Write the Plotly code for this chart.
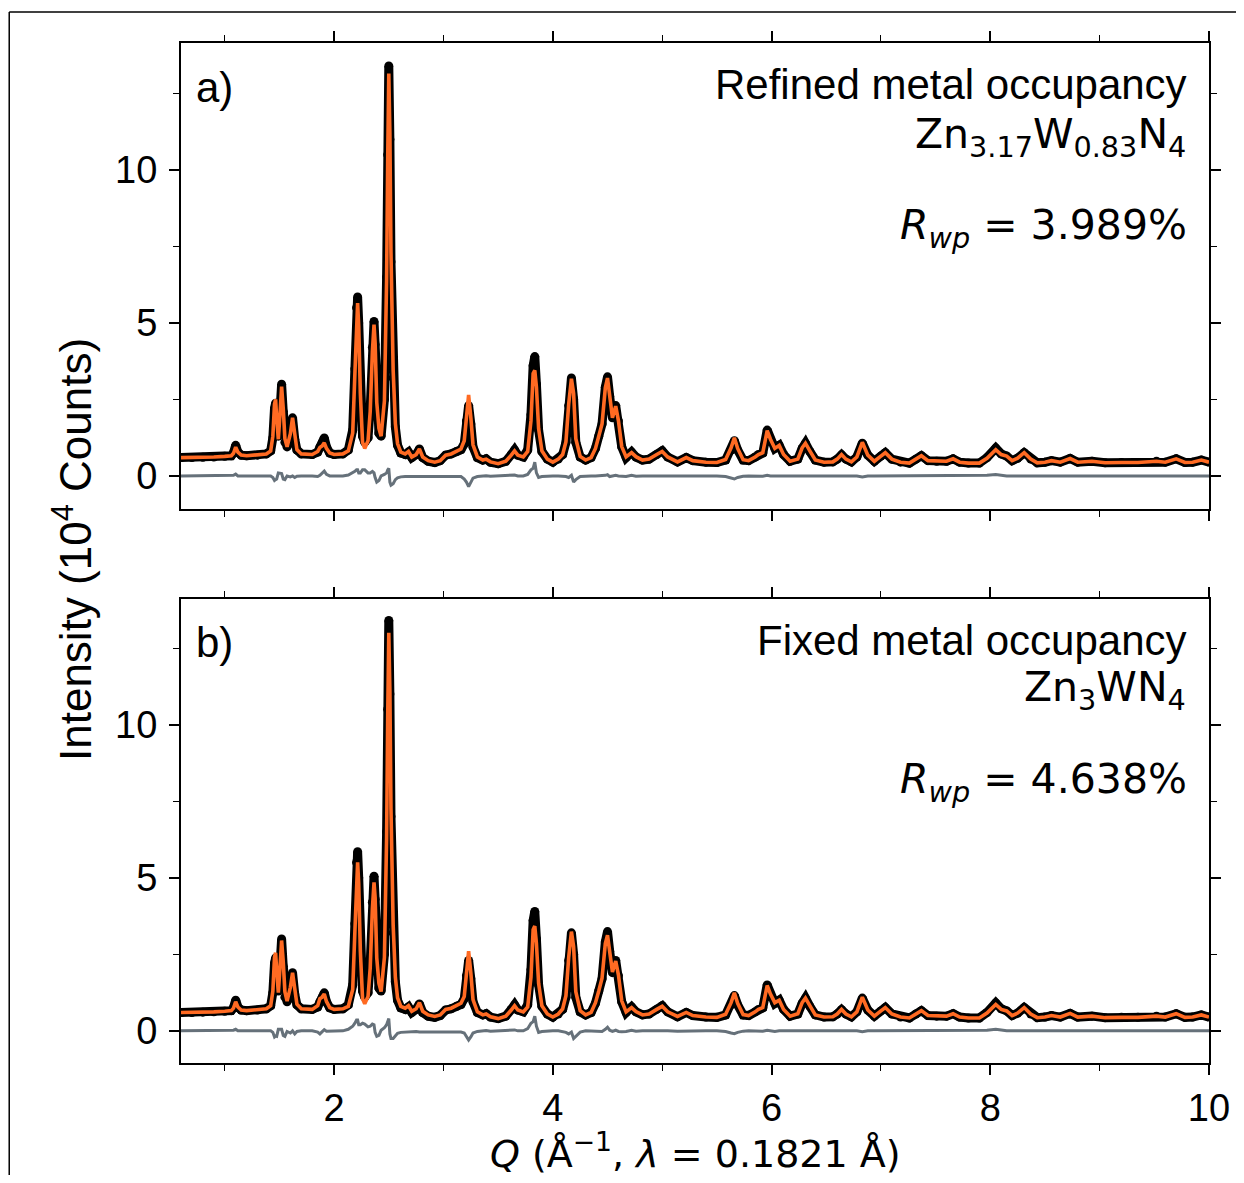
import plotly.graph_objects as go

# ---------------- data ----------------
q = [0.60, 0.70, 0.80, 0.90, 1.00, 1.06, 1.08, 1.10, 1.12, 1.15, 1.20, 1.30, 1.38, 1.42, 1.44,
     1.455, 1.465, 1.475, 1.49, 1.505, 1.52, 1.535, 1.55, 1.57, 1.60, 1.62, 1.64, 1.66, 1.70, 1.80,
     1.85, 1.87, 1.89, 1.91, 1.93, 1.96, 2.00, 2.08, 2.13, 2.17, 2.19, 2.205, 2.215, 2.225, 2.24,
     2.26, 2.28, 2.31, 2.33, 2.35, 2.365, 2.375, 2.39, 2.41, 2.43, 2.46, 2.48, 2.49, 2.50, 2.51,
     2.52, 2.54, 2.56, 2.58, 2.61, 2.65, 2.68, 2.71, 2.75, 2.78, 2.81, 2.86, 2.92, 2.97, 3.02,
     3.07, 3.12, 3.16, 3.19, 3.21, 3.23, 3.25, 3.27, 3.31, 3.36, 3.39, 3.43, 3.50, 3.57, 3.62,
     3.65, 3.68, 3.73, 3.77, 3.80, 3.82, 3.835, 3.85, 3.87, 3.90, 3.95, 4.00, 4.05, 4.09, 4.12,
     4.145, 4.17, 4.19, 4.21, 4.25, 4.30, 4.35, 4.39, 4.42, 4.45, 4.48, 4.50, 4.52, 4.545, 4.575,
     4.60, 4.63, 4.67, 4.72, 4.76, 4.82, 4.88, 4.95, 5.00, 5.05, 5.14, 5.22, 5.28, 5.40, 5.50,
     5.58, 5.63, 5.66, 5.69, 5.74, 5.79, 5.85, 5.88, 5.92, 5.96, 5.99, 6.03, 6.07, 6.11, 6.17,
     6.24, 6.28, 6.31, 6.35, 6.40, 6.48, 6.56, 6.60, 6.64, 6.68, 6.73, 6.78, 6.83, 6.88, 6.94,
     7.00, 7.04, 7.10, 7.18, 7.26, 7.32, 7.37, 7.43, 7.51, 7.60, 7.66, 7.72, 7.80, 7.90, 7.97,
     8.05, 8.10, 8.15, 8.20, 8.25, 8.31, 8.37, 8.43, 8.50, 8.56, 8.64, 8.73, 8.80, 8.93, 9.05,
     9.20, 9.35, 9.52, 9.60, 9.70, 9.78, 9.85, 9.93, 10.00]

i_obs = [0.60, 0.60, 0.61, 0.62, 0.64, 0.66, 0.76, 1.00, 0.78, 0.68, 0.66, 0.68, 0.72, 0.82, 1.25,
         2.20, 2.38, 1.80, 1.30, 2.10, 3.00, 2.10, 1.10, 0.95, 1.35, 1.90, 1.20, 0.85, 0.72, 0.70,
         0.78, 0.95, 1.08, 1.24, 0.95, 0.75, 0.70, 0.72, 0.85, 1.50, 3.50, 5.50, 5.85, 5.00, 2.80,
         1.30, 1.10, 1.25, 2.20, 4.20, 5.05, 4.30, 2.20, 1.40, 1.30, 2.50, 6.50, 10.50, 13.40, 11.00,
         7.00, 3.20, 1.60, 1.00, 0.75, 0.70, 0.78, 0.60, 0.70, 0.88, 0.60, 0.48, 0.44, 0.50, 0.68,
         0.72, 0.80, 0.86, 1.05, 1.80, 2.30, 1.70, 0.95, 0.60, 0.52, 0.56, 0.45, 0.40, 0.48, 0.70,
         0.85, 0.68, 0.62, 0.85, 2.00, 3.60, 3.90, 3.00, 1.50, 0.80, 0.55, 0.45, 0.55, 0.70, 1.10,
         2.30, 3.20, 2.50, 1.10, 0.62, 0.52, 0.60, 0.90, 1.30, 1.70, 2.90, 3.24, 2.60, 1.90, 2.30,
         1.80, 0.95, 0.60, 0.78, 0.62, 0.52, 0.55, 0.70, 0.82, 0.62, 0.46, 0.60, 0.50, 0.45, 0.44,
         0.52, 0.85, 1.15, 0.85, 0.52, 0.50, 0.62, 0.70, 0.75, 1.50, 1.20, 0.90, 1.00, 0.70, 0.48,
         0.55, 0.90, 1.07, 0.80, 0.52, 0.45, 0.46, 0.55, 0.69, 0.55, 0.46, 0.62, 1.07, 0.68, 0.48,
         0.65, 0.76, 0.55, 0.45, 0.42, 0.55, 0.66, 0.50, 0.48, 0.48, 0.56, 0.45, 0.42, 0.42, 0.60,
         0.91, 0.72, 0.65, 0.50, 0.58, 0.76, 0.55, 0.43, 0.45, 0.50, 0.45, 0.57, 0.45, 0.48, 0.43,
         0.44, 0.44, 0.48, 0.45, 0.56, 0.44, 0.45, 0.52, 0.45]

i_calc_a = [0.60, 0.60, 0.61, 0.62, 0.64, 0.66, 0.74, 0.94, 0.78, 0.68, 0.66, 0.68, 0.72, 0.82, 1.30,
            2.35, 2.50, 1.90, 1.20, 2.00, 2.92, 2.20, 1.22, 0.95, 1.38, 1.90, 1.25, 0.86, 0.72, 0.70,
            0.80, 0.93, 0.98, 1.08, 0.90, 0.75, 0.70, 0.72, 0.82, 1.40, 3.35, 5.30, 5.65, 4.90, 2.70,
            1.10, 0.90, 1.15, 2.10, 4.05, 4.95, 4.35, 2.40, 1.55, 1.30, 2.45, 6.40, 10.30, 13.15, 11.20,
            7.30, 3.45, 1.72, 1.06, 0.78, 0.72, 0.80, 0.62, 0.70, 0.88, 0.62, 0.50, 0.45, 0.50, 0.68,
            0.72, 0.80, 0.88, 1.15, 2.00, 2.65, 1.92, 1.02, 0.62, 0.52, 0.55, 0.46, 0.40, 0.48, 0.68,
            0.82, 0.68, 0.62, 0.80, 1.80, 3.35, 3.45, 2.90, 1.55, 0.82, 0.55, 0.45, 0.55, 0.70, 1.12,
            2.35, 3.18, 2.70, 1.22, 0.64, 0.52, 0.60, 0.90, 1.30, 1.70, 2.88, 3.20, 2.62, 1.90, 2.28,
            1.80, 0.96, 0.62, 0.76, 0.63, 0.52, 0.55, 0.70, 0.80, 0.62, 0.46, 0.60, 0.50, 0.45, 0.44,
            0.54, 0.92, 1.25, 0.90, 0.53, 0.50, 0.62, 0.70, 0.76, 1.48, 1.20, 0.90, 1.00, 0.70, 0.48,
            0.55, 0.92, 1.07, 0.82, 0.52, 0.45, 0.46, 0.55, 0.70, 0.55, 0.46, 0.62, 1.10, 0.68, 0.48,
            0.65, 0.76, 0.55, 0.45, 0.42, 0.55, 0.66, 0.50, 0.48, 0.48, 0.56, 0.45, 0.42, 0.42, 0.58,
            0.86, 0.70, 0.65, 0.50, 0.58, 0.76, 0.55, 0.43, 0.45, 0.50, 0.45, 0.57, 0.45, 0.48, 0.43,
            0.44, 0.44, 0.48, 0.45, 0.56, 0.44, 0.45, 0.52, 0.45]

i_calc_b = [0.60, 0.60, 0.61, 0.62, 0.64, 0.66, 0.74, 0.95, 0.78, 0.68, 0.66, 0.68, 0.72, 0.82, 1.30,
            2.40, 2.55, 1.98, 1.25, 2.05, 2.95, 2.25, 1.28, 0.97, 1.42, 1.90, 1.30, 0.87, 0.72, 0.70,
            0.82, 1.05, 1.10, 1.20, 0.96, 0.76, 0.70, 0.72, 0.80, 1.35, 3.25, 5.15, 5.50, 4.80, 2.60,
            1.05, 0.88, 1.12, 2.05, 3.98, 4.85, 4.35, 2.38, 1.55, 1.28, 2.40, 6.30, 10.20, 13.00, 11.10,
            7.25, 3.45, 1.75, 1.08, 0.80, 0.74, 0.82, 0.64, 0.72, 0.92, 0.64, 0.52, 0.47, 0.52, 0.70,
            0.74, 0.84, 0.90, 1.12, 1.98, 2.60, 1.90, 1.02, 0.62, 0.52, 0.55, 0.46, 0.40, 0.48, 0.68,
            0.82, 0.68, 0.62, 0.78, 1.75, 3.30, 3.42, 2.85, 1.55, 0.82, 0.55, 0.45, 0.55, 0.72, 1.15,
            2.40, 3.24, 2.75, 1.28, 0.66, 0.52, 0.60, 0.92, 1.30, 1.72, 2.85, 3.12, 2.58, 1.92, 2.28,
            1.82, 0.98, 0.62, 0.76, 0.63, 0.52, 0.55, 0.70, 0.80, 0.62, 0.47, 0.60, 0.50, 0.45, 0.44,
            0.54, 0.92, 1.24, 0.90, 0.53, 0.50, 0.62, 0.70, 0.76, 1.48, 1.20, 0.92, 1.00, 0.70, 0.48,
            0.56, 0.92, 1.07, 0.82, 0.52, 0.45, 0.46, 0.55, 0.70, 0.55, 0.46, 0.62, 1.10, 0.68, 0.48,
            0.65, 0.76, 0.55, 0.45, 0.42, 0.55, 0.66, 0.50, 0.48, 0.48, 0.56, 0.45, 0.42, 0.42, 0.58,
            0.86, 0.70, 0.65, 0.50, 0.58, 0.76, 0.55, 0.43, 0.45, 0.50, 0.45, 0.57, 0.45, 0.48, 0.43,
            0.44, 0.44, 0.48, 0.45, 0.56, 0.44, 0.45, 0.52, 0.45]

x_ticks = [2, 4, 6, 8, 10]
y_ticks = [0, 5, 10]
panel_labels = ["a)", "b)"]
panel_titles = ["Refined metal occupancy", "Fixed metal occupancy"]
formulas = ["Zn<sub>3.17</sub>W<sub>0.83</sub>N<sub>4</sub>", "Zn<sub>3</sub>WN<sub>4</sub>"]
rwp_values = ["3.989", "4.638"]

# ---------------- styling ----------------
# page body has an 8 px margin, so the figure is 16 px smaller than the window
OFF = 8
W, H = 1244 - 2 * OFF, 1183 - 2 * OFF
BLACK = "#000000"
ORANGE = "#ff6a22"
GREY = "#66717a"
SANS = "Liberation Sans, Arial, sans-serif"
MATH = "DejaVu Sans, sans-serif"


def px(x):
    return (x - OFF) / W


def py(y):
    return 1 - (y - OFF) / H


fig = go.Figure()

panels = [
    dict(calc=i_calc_a, xa="x", ya="y", ydom=[py(509), py(43)]),
    dict(calc=i_calc_b, xa="x2", ya="y2", ydom=[py(1063), py(599)]),
]

for p in panels:
    diff = [o - c for o, c in zip(i_obs, p["calc"])]
    fig.add_trace(go.Scatter(x=q, y=diff, mode="lines", line=dict(color=GREY, width=3),
                             xaxis=p["xa"], yaxis=p["ya"], showlegend=False, hoverinfo="skip"))
    fig.add_trace(go.Scatter(x=q, y=i_obs, mode="lines+markers",
                             line=dict(color=BLACK, width=9),
                             marker=dict(color=BLACK, size=9),
                             xaxis=p["xa"], yaxis=p["ya"], showlegend=False))
    fig.add_trace(go.Scatter(x=q, y=p["calc"], mode="lines", line=dict(color=ORANGE, width=3.6),
                             xaxis=p["xa"], yaxis=p["ya"], showlegend=False))

xdom = [px(181), px(1209)]
axis_common = dict(showline=True, linecolor=BLACK, linewidth=2, mirror="ticks",
                   ticks="outside", ticklen=10, tickwidth=1.6, tickcolor=BLACK,
                   showgrid=False, zeroline=False, automargin=False,
                   tickfont=dict(family=SANS, size=38, color=BLACK))
xminor = dict(dtick=1, tick0=0, ticklen=6, tickwidth=1.4, tickcolor=BLACK, ticks="outside")
yminor = dict(dtick=2.5, tick0=0, ticklen=6, tickwidth=1.4, tickcolor=BLACK, ticks="outside")

fig.update_layout(
    width=W, height=H, margin=dict(l=0, r=0, t=0, b=0, autoexpand=False),
    paper_bgcolor="white", plot_bgcolor="white",
    xaxis=dict(domain=xdom, range=[0.6, 10], anchor="y", tickvals=x_ticks, showticklabels=False,
               minor=xminor, **axis_common),
    yaxis=dict(domain=panels[0]["ydom"], range=[-1.08, 14.15], anchor="x", tickvals=y_ticks,
               minor=yminor, ticklabelstandoff=4, **axis_common),
    xaxis2=dict(domain=xdom, range=[0.6, 10], anchor="y2", tickvals=x_ticks,
                minor=xminor, ticklabelstandoff=0, **axis_common),
    yaxis2=dict(domain=panels[1]["ydom"], range=[-1.05, 14.1], anchor="x2", tickvals=y_ticks,
                minor=yminor, ticklabelstandoff=4, **axis_common),
)

ann = []
label_y = [88, 642]
title_y = [85, 640]
formula_y = [137, 690]
rwp_y = [228, 782]
for k in range(2):
    ann.append(dict(x=px(194), y=py(label_y[k]), text=panel_labels[k], showarrow=False,
                    xref="paper", yref="paper", xanchor="left", yanchor="middle",
                    font=dict(family=SANS, size=42, color=BLACK)))
    ann.append(dict(x=px(1189), y=py(title_y[k]), text=panel_titles[k], showarrow=False,
                    xref="paper", yref="paper", xanchor="right", yanchor="middle",
                    font=dict(family=SANS, size=42, color=BLACK)))
    ann.append(dict(x=px(1188), y=py(formula_y[k]), text=formulas[k], showarrow=False,
                    xref="paper", yref="paper", xanchor="right", yanchor="middle",
                    font=dict(family=MATH, size=41, color=BLACK)))
    ann.append(dict(x=px(1189), y=py(rwp_y[k]),
                    text="<i>R</i><sub><i>wp</i></sub> = " + rwp_values[k] + "%", showarrow=False,
                    xref="paper", yref="paper", xanchor="right", yanchor="middle",
                    font=dict(family=MATH, size=41, color=BLACK)))

ann.append(dict(x=px(72), y=py(550), text="Intensity (10<sup>4</sup> Counts)", textangle=-90,
                showarrow=False, xref="paper", yref="paper", xanchor="center", yanchor="middle",
                font=dict(family=SANS, size=44, color=BLACK)))
ann.append(dict(x=px(695), y=py(1151), text="<i>Q</i> (Å<sup>−1</sup>, <i>λ</i> = 0.1821 Å)",
                showarrow=False, xref="paper", yref="paper", xanchor="center", yanchor="middle",
                font=dict(family=MATH, size=38, color=BLACK)))
fig.update_layout(annotations=ann)

# outer figure frame (left and top edges)
fig.add_shape(type="line", xref="paper", yref="paper", x0=0.001, x1=0.001, y0=0, y1=py(12),
              line=dict(color=BLACK, width=1.5))
fig.add_shape(type="line", xref="paper", yref="paper", x0=0.001, x1=1, y0=py(12), y1=py(12),
              line=dict(color=BLACK, width=1.5))

fig.write_html("out.html")
